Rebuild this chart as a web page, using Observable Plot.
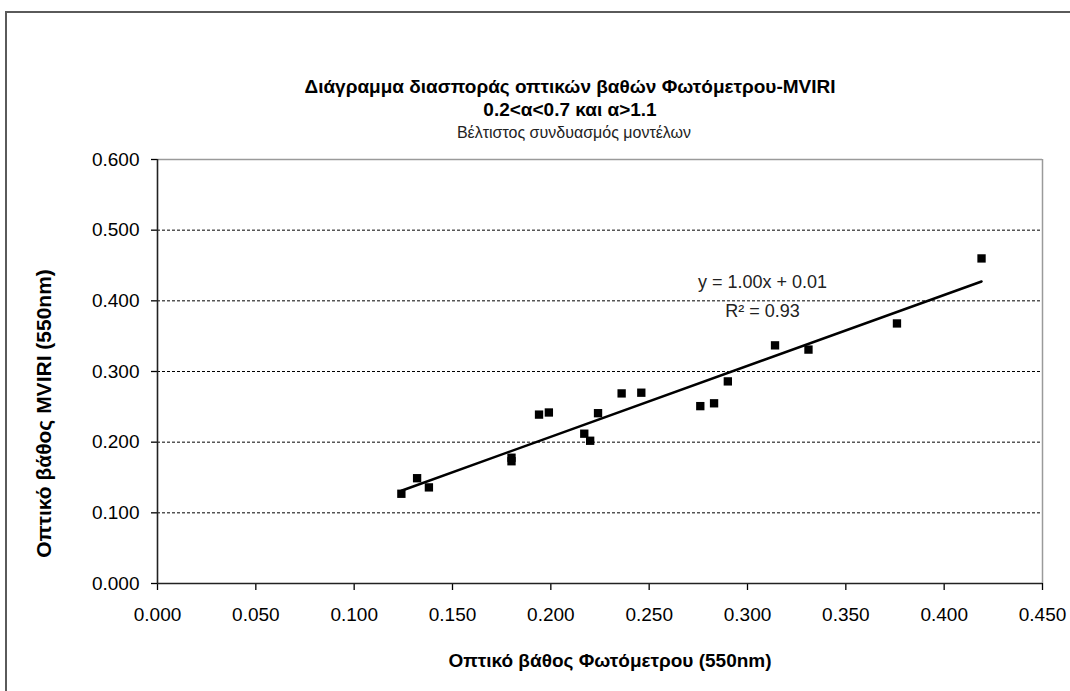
<!DOCTYPE html>
<html>
<head>
<meta charset="utf-8">
<script src="https://cdn.jsdelivr.net/npm/d3@7"></script>
<script src="https://cdn.jsdelivr.net/npm/@observablehq/plot@0.6"></script>
<style>
  html, body { margin: 0; padding: 0; background: white; }
  #wrap { position: relative; width: 1070px; height: 691px; overflow: hidden; }
  #wrap svg { position: absolute; left: 0; top: 0; }
  #frame { position: absolute; left: 5px; top: 11px; width: 1100px; height: 700px;
           border-left: 2px solid #5a5a5a; border-top: 2px solid #5a5a5a; pointer-events: none; }
</style>
</head>
<body>
<div id="wrap"><div id="frame"></div></div>
<script>
// Data
const photometerAOD = [0.124, 0.132, 0.138, 0.180, 0.180, 0.194, 0.199, 0.217, 0.220, 0.224, 0.236, 0.246, 0.276, 0.283, 0.290, 0.314, 0.331, 0.376, 0.419];
const mviriAOD      = [0.127, 0.149, 0.136, 0.178, 0.173, 0.239, 0.242, 0.212, 0.202, 0.241, 0.269, 0.270, 0.251, 0.255, 0.286, 0.337, 0.331, 0.368, 0.460];
const xTicks = [0, 0.05, 0.10, 0.15, 0.20, 0.25, 0.30, 0.35, 0.40, 0.45];
const yTicks = [0, 0.1, 0.2, 0.3, 0.4, 0.5, 0.6];
const gridValues = [0.1, 0.2, 0.3, 0.4, 0.5];
const titleLines = ["Διάγραμμα διασποράς οπτικών βαθών Φωτόμετρου-MVIRI", "0.2<α<0.7 και α>1.1"];
const subtitle = "Βέλτιστος συνδυασμός μοντέλων";
const xLabel = "Οπτικό βάθος Φωτόμετρου (550nm)";
const yLabel = "Οπτικό βάθος MVIRI (550nm)";
const eqLine = "y = 1.00x + 0.01";
const r2Line = "R² = 0.93";

const points = photometerAOD.map((x, i) => ({x, y: mviriAOD[i]}));

const font = "'Liberation Sans', Arial, sans-serif";

const chart = Plot.plot({
  width: 1070,
  height: 691,
  marginLeft: 157,
  marginRight: 28,
  marginTop: 159,
  marginBottom: 108,
  style: {fontFamily: font, background: "white", color: "black"},
  x: {domain: [0, 0.45], ticks: xTicks},
  y: {domain: [0, 0.6], ticks: yTicks},
  marks: [
    Plot.ruleY(gridValues, {stroke: "black", strokeWidth: 1, strokeDasharray: "3,2"}),
    Plot.ruleY([0.6], {stroke: "#9a9a9a", strokeWidth: 1.5}),
    Plot.ruleX([0.45], {stroke: "#9a9a9a", strokeWidth: 1.5}),
    Plot.axisY(yTicks, {tickSize: 6, tickPadding: 12, tickFormat: d3.format(".3f"), fontSize: 19, label: null, strokeWidth: 1.3}),
    Plot.axisX(xTicks, {tickSize: 7, tickPadding: 17, tickFormat: d3.format(".3f"), fontSize: 19, label: null, strokeWidth: 1.3}),
    Plot.ruleY([0], {stroke: "#222", strokeWidth: 1.6}),
    Plot.ruleX([0], {stroke: "#222", strokeWidth: 1.6}),
    Plot.linearRegressionY(points, {x: "x", y: "y", ci: 0, stroke: "black", strokeWidth: 2.5}),
    Plot.dot(points, {x: "x", y: "y", symbol: "square", r: 4.7, fill: "black", stroke: "none"}),
    Plot.text([titleLines[0]], {frameAnchor: "top", dx: -30, dy: -67, lineAnchor: "bottom", fontWeight: "bold", fontSize: 19, fill: "black"}),
    Plot.text([titleLines[1]], {frameAnchor: "top", dx: -30, dy: -44, lineAnchor: "bottom", fontWeight: "bold", fontSize: 19, fill: "black"}),
    Plot.text([subtitle], {frameAnchor: "top", dx: -26, dy: -22, lineAnchor: "bottom", fontSize: 16, fill: "#222"}),
    Plot.text([xLabel], {frameAnchor: "bottom", dx: 10, dy: 83, lineAnchor: "bottom", fontWeight: "bold", fontSize: 19, fill: "black"}),
    Plot.text([yLabel], {frameAnchor: "left", dx: -113, dy: 42, rotate: -90, textAnchor: "middle", lineAnchor: "middle", fontWeight: "bold", fontSize: 21, fill: "black"}),
    Plot.text([eqLine], {frameAnchor: "top-left", dx: 605, dy: 128, lineAnchor: "bottom", textAnchor: "middle", fontSize: 18, fill: "#222"}),
    Plot.text([r2Line], {frameAnchor: "top-left", dx: 605, dy: 157, lineAnchor: "bottom", textAnchor: "middle", fontSize: 18, fill: "#222"})
  ]
});
document.getElementById("wrap").prepend(chart);
</script>
</body>
</html>
